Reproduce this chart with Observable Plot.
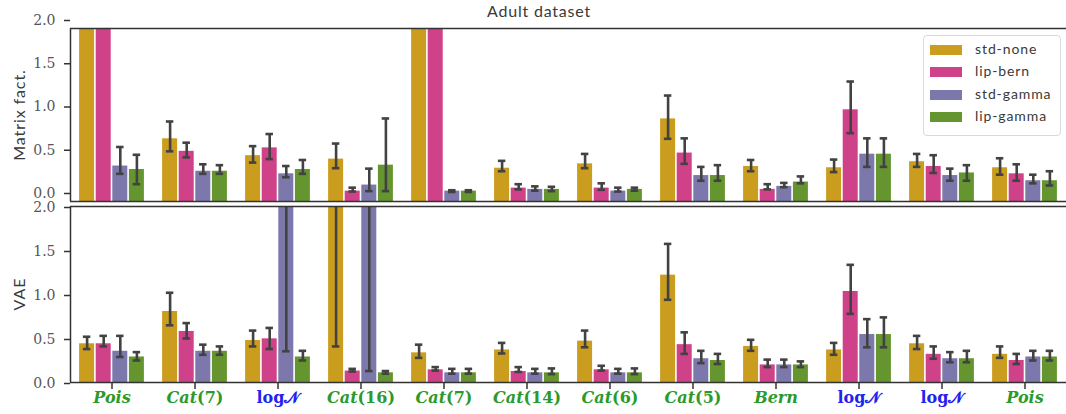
<!DOCTYPE html>
<html>
<head>
<meta charset="utf-8">
<script src="https://cdn.jsdelivr.net/npm/d3@7"></script>
<script src="https://cdn.jsdelivr.net/npm/@observablehq/plot@0.6"></script>
<style>
  html, body { margin: 0; padding: 0; background: #fff; }
  #wrap { position: relative; width: 1066px; height: 414px; overflow: hidden; background: #fff; }
  #wrap svg { position: absolute; left: 0; overflow: visible; }
  .lbl { position: absolute; font-family: Lato, sans-serif; color: #3a3a3a; white-space: nowrap; }
  #legend { position: absolute; left: 923px; top: 35px; width: 138px; height: 101px; border: 1px solid #d9d9d9; border-radius: 4px; background: rgba(255,255,255,0.9); box-sizing: border-box; }
  .row { position: absolute; left: 6px; height: 22px; }
  .sw { position: absolute; left: 0; top: 6px; width: 32px; height: 10px; }
  .tx { position: absolute; left: 45px; top: 1px; font-family: Lato, sans-serif; font-size: 14px; letter-spacing: 0.9px; color: #3a3a3a; white-space: nowrap; }
</style>
</head>
<body>
<div id="wrap"></div>
<script>
// ---- data ----
const groups = ["Pois", "Cat(7)", "log𝒩", "Cat(16)", "Cat(7)", "Cat(14)", "Cat(6)", "Cat(5)", "Bern", "log𝒩", "log𝒩", "Pois"];
const groupColors = ["#2b9a2b", "#2b9a2b", "#2222ee", "#2b9a2b", "#2b9a2b", "#2b9a2b", "#2b9a2b", "#2b9a2b", "#2b9a2b", "#2222ee", "#2222ee", "#2b9a2b"];
const series = ["std-none", "lip-bern", "std-gamma", "lip-gamma"];
const seriesColors = ["#ca9d1f", "#cf4189", "#7c78ab", "#65952f"];
const yTicks = [0, 0.5, 1.0, 1.5, 2.0];

// Matrix factorization panel (values above 2.0 are clipped in the picture)
const mfMean = [
  [4.0, 0.725, 0.53, 0.49, 4.0, 0.385, 0.435, 0.955, 0.405, 0.39, 0.46, 0.39],
  [4.0, 0.58, 0.62, 0.12, 4.0, 0.155, 0.155, 0.56, 0.14, 1.06, 0.405, 0.32],
  [0.41, 0.35, 0.32, 0.19, 0.12, 0.14, 0.12, 0.30, 0.175, 0.547, 0.30, 0.24],
  [0.37, 0.35, 0.37, 0.42, 0.12, 0.14, 0.14, 0.30, 0.225, 0.547, 0.33, 0.24]
];
const mfLo = [
  [null, 0.58, 0.45, 0.385, null, 0.35, 0.385, 0.725, 0.35, 0.34, 0.40, 0.31],
  [null, 0.51, 0.49, 0.115, null, 0.14, 0.135, 0.435, 0.14, 0.79, 0.33, 0.24],
  [0.32, 0.32, 0.28, 0.12, 0.11, 0.125, 0.115, 0.24, 0.165, 0.40, 0.24, 0.21],
  [0.20, 0.32, 0.32, 0.12, 0.11, 0.12, 0.125, 0.24, 0.21, 0.40, 0.24, 0.185]
];
const mfHi = [
  [null, 0.925, 0.64, 0.67, null, 0.47, 0.55, 1.225, 0.48, 0.485, 0.55, 0.50],
  [null, 0.68, 0.78, 0.16, null, 0.20, 0.21, 0.73, 0.20, 1.387, 0.535, 0.43],
  [0.63, 0.43, 0.41, 0.38, 0.13, 0.175, 0.16, 0.40, 0.215, 0.73, 0.38, 0.31],
  [0.54, 0.42, 0.48, 0.96, 0.13, 0.17, 0.16, 0.42, 0.29, 0.73, 0.42, 0.35]
];

// VAE panel
const vaeMean = [
  [0.44, 0.807, 0.477, 3.5, 0.337, 0.37, 0.47, 1.22, 0.41, 0.37, 0.44, 0.32],
  [0.44, 0.58, 0.496, 0.13, 0.144, 0.125, 0.144, 0.43, 0.20, 1.034, 0.32, 0.25],
  [0.355, 0.355, 3.5, 3.5, 0.11, 0.11, 0.11, 0.27, 0.20, 0.545, 0.27, 0.29],
  [0.29, 0.355, 0.29, 0.11, 0.11, 0.11, 0.11, 0.25, 0.20, 0.545, 0.27, 0.29]
];
const vaeLo = [
  [0.38, 0.65, 0.41, 0.41, 0.28, 0.33, 0.40, 0.94, 0.36, 0.315, 0.38, 0.28],
  [0.41, 0.50, 0.38, 0.125, 0.135, 0.12, 0.135, 0.325, 0.175, 0.78, 0.27, 0.21],
  [0.29, 0.315, 0.355, 0.13, 0.10, 0.10, 0.10, 0.22, 0.175, 0.40, 0.23, 0.25],
  [0.25, 0.315, 0.25, 0.10, 0.10, 0.095, 0.095, 0.21, 0.175, 0.40, 0.23, 0.25]
];
const vaeHi = [
  [0.52, 1.02, 0.59, 6.0, 0.43, 0.45, 0.59, 1.575, 0.485, 0.45, 0.53, 0.41],
  [0.53, 0.675, 0.62, 0.155, 0.175, 0.175, 0.19, 0.57, 0.26, 1.337, 0.41, 0.325],
  [0.53, 0.43, 6.0, 6.0, 0.155, 0.155, 0.155, 0.36, 0.26, 0.72, 0.345, 0.36],
  [0.345, 0.41, 0.36, 0.13, 0.155, 0.16, 0.16, 0.325, 0.24, 0.74, 0.36, 0.36]
];

// ---- build ----
function rowsOf(mean, lo, hi) {
  const rows = [];
  series.forEach((s, k) => {
    groups.forEach((gname, g) => {
      rows.push({g, k, s, x: g + (k - 1.5) * 0.2, mean: mean[k][g], lo: lo[k][g], hi: hi[k][g], color: seriesColors[k]});
    });
  });
  return rows;
}

const groupRows = groups.map((label, g) => ({g, label, color: groupColors[g]}));

function panel(rows, {height, marginTop, marginBottom, labelDy, xAxis}) {
  const err = rows.filter(d => d.lo != null && d.hi != null);
  const caps = err.flatMap(d => [{x: d.x, v: d.lo}, {x: d.x, v: d.hi}]);
  const marks = [
    Plot.rectY(rows, {x1: d => d.x - 0.1, x2: d => d.x + 0.1, y1: 0, y2: "mean", fill: "color", insetLeft: 0.8, insetRight: 0.8, clip: true}),
    Plot.ruleX(err, {x: "x", y1: "lo", y2: "hi", stroke: "#424242", strokeWidth: 2.6, clip: true}),
    Plot.ruleY(caps, {y: "v", x1: d => d.x - 0.045, x2: d => d.x + 0.045, stroke: "#424242", strokeWidth: 2.6, clip: true}),
    Plot.ruleY([0, 2], {stroke: "#333", strokeWidth: 1.5}),
    Plot.ruleX([-0.5], {stroke: "#333", strokeWidth: 1.5}),
    Plot.axisY({ticks: yTicks, tickFormat: d3.format(".1f"), tickSize: 6, tickPadding: 9, strokeWidth: 1.5, stroke: "#333",
      fill: "#555", fontFamily: "DejaVu Serif", fontSize: 14, dy: labelDy, label: null})
  ];
  if (xAxis) {
    marks.push(Plot.axisX({ticks: d3.range(groups.length), tickSize: 7, strokeWidth: 1.5, stroke: "#333", tickFormat: () => "", label: null}));
    marks.push(Plot.text(groupRows, {x: "g", text: "label", fill: "color", frameAnchor: "bottom", dy: 20,
      fontFamily: "DejaVu Serif", fontStyle: "italic", fontWeight: "bold", fontSize: 16}));
  }
  return Plot.plot({
    width: 1066, height, marginLeft: 70, marginRight: 0, marginTop, marginBottom,
    x: {domain: [-0.5, 11.5], axis: xAxis ? undefined : null},
    y: {domain: [0, 2], axis: null},
    color: {type: "identity"},
    style: {background: "transparent", color: "#333", overflow: "visible"},
    marks
  });
}

const wrap = document.getElementById("wrap");
const topPanel = panel(rowsOf(mfMean, mfLo, mfHi), {height: 204, marginTop: 28, marginBottom: 3, labelDy: -8, xAxis: false});
topPanel.style.top = "0px";
const botPanel = panel(rowsOf(vaeMean, vaeLo, vaeHi), {height: 214, marginTop: 6, marginBottom: 32, labelDy: 1, xAxis: true});
botPanel.style.top = "200px";
wrap.appendChild(topPanel);
wrap.appendChild(botPanel);

// math-like labels: italic letters, upright parentheses/digits, upright "log"
d3.select(botPanel).selectAll("text").each(function () {
  const t = this.textContent;
  const sel = d3.select(this);
  let m;
  if (t.startsWith("log")) {
    this.textContent = "";
    sel.append("tspan").attr("font-style", "normal").text("log");
    sel.append("tspan").attr("font-style", "normal").text("𝒩");
  } else if ((m = t.match(/^([A-Za-z]+)(\(.*\))$/))) {
    this.textContent = "";
    sel.append("tspan").text(m[1]);
    sel.append("tspan").attr("font-style", "normal").text(m[2]);
  }
});

// title, y labels, legend
function addLabel(text, css) {
  const d = document.createElement("div");
  d.className = "lbl";
  d.textContent = text;
  Object.assign(d.style, css);
  wrap.appendChild(d);
  return d;
}
addLabel("Adult dataset", {left: "539px", top: "10px", fontSize: "16px", letterSpacing: "0.8px", transform: "translate(-50%,-50%)"});
addLabel("Matrix fact.", {left: "18px", top: "115px", fontSize: "16px", letterSpacing: "0.9px", transform: "translate(-50%,-50%) rotate(-90deg)"});
addLabel("VAE", {left: "18px", top: "294px", fontSize: "16px", letterSpacing: "0.9px", transform: "translate(-50%,-50%) rotate(-90deg)"});

const legend = document.createElement("div");
legend.id = "legend";
series.forEach((s, k) => {
  const row = document.createElement("div");
  row.className = "row";
  row.style.top = (3 + k * 22.4) + "px";
  const sw = document.createElement("div");
  sw.className = "sw";
  sw.style.background = seriesColors[k];
  const tx = document.createElement("div");
  tx.className = "tx";
  tx.textContent = s;
  row.appendChild(sw);
  row.appendChild(tx);
  legend.appendChild(row);
});
wrap.appendChild(legend);
</script>
</body>
</html>
